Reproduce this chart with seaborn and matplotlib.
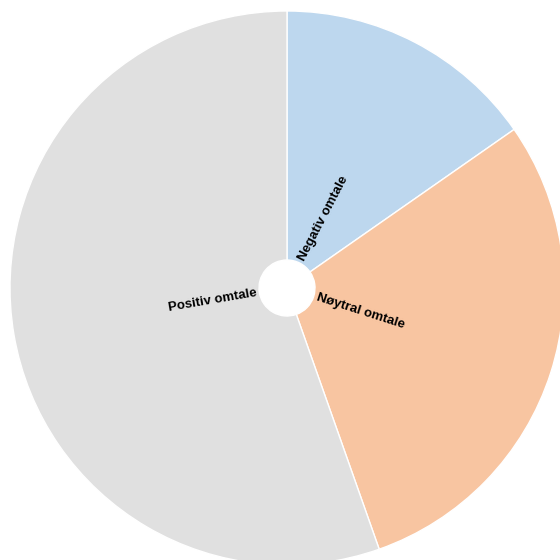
import numpy as np
import matplotlib
matplotlib.use("Agg")
import matplotlib.pyplot as plt
import seaborn as sns

categories = ["Negativ omtale", "Nøytral omtale", "Positiv omtale"]
values = [15.3, 29.3, 55.4]
colors = ["#BDD7EE", "#F8C5A1", "#E0E0E0"]

sns.set_theme(style="white")
plt.rcParams['font.family'] = ['Liberation Sans', 'DejaVu Sans']

fig = plt.figure(figsize=(5.6, 5.6), dpi=100)
ax = fig.add_axes([0, 0, 1, 1])

cx, cy = 287, 560 - 288
R = 277
r_in = 28

wedges, _ = ax.pie(values, colors=colors, startangle=90, counterclock=False,
                   center=(cx, cy), radius=R,
                   wedgeprops=dict(width=R - r_in, edgecolor='white', linewidth=1.0))

ax.set_xlim(0, 560)
ax.set_ylim(0, 560)
ax.set_aspect('equal')
ax.axis('off')

total = sum(values)
start = 90.0
r_lab = r_in + 3
for cat, v in zip(categories, values):
    sweep = 360.0 * v / total
    mid = start - sweep / 2
    start -= sweep
    rad = np.deg2rad(mid)
    x = cx + r_lab * np.cos(rad)
    y = cy + r_lab * np.sin(rad)
    m = ((mid + 180) % 360) - 180
    if -90 <= m <= 90:
        rot, ha = m, 'left'
    else:
        rot, ha = m - 180 if m > 0 else m + 180, 'right'
    ax.text(x, y, cat, rotation=rot, rotation_mode='anchor', ha=ha, va='center',
            fontsize=9.5, fontweight='bold', color='black')

fig.savefig("out.png", dpi=100)
